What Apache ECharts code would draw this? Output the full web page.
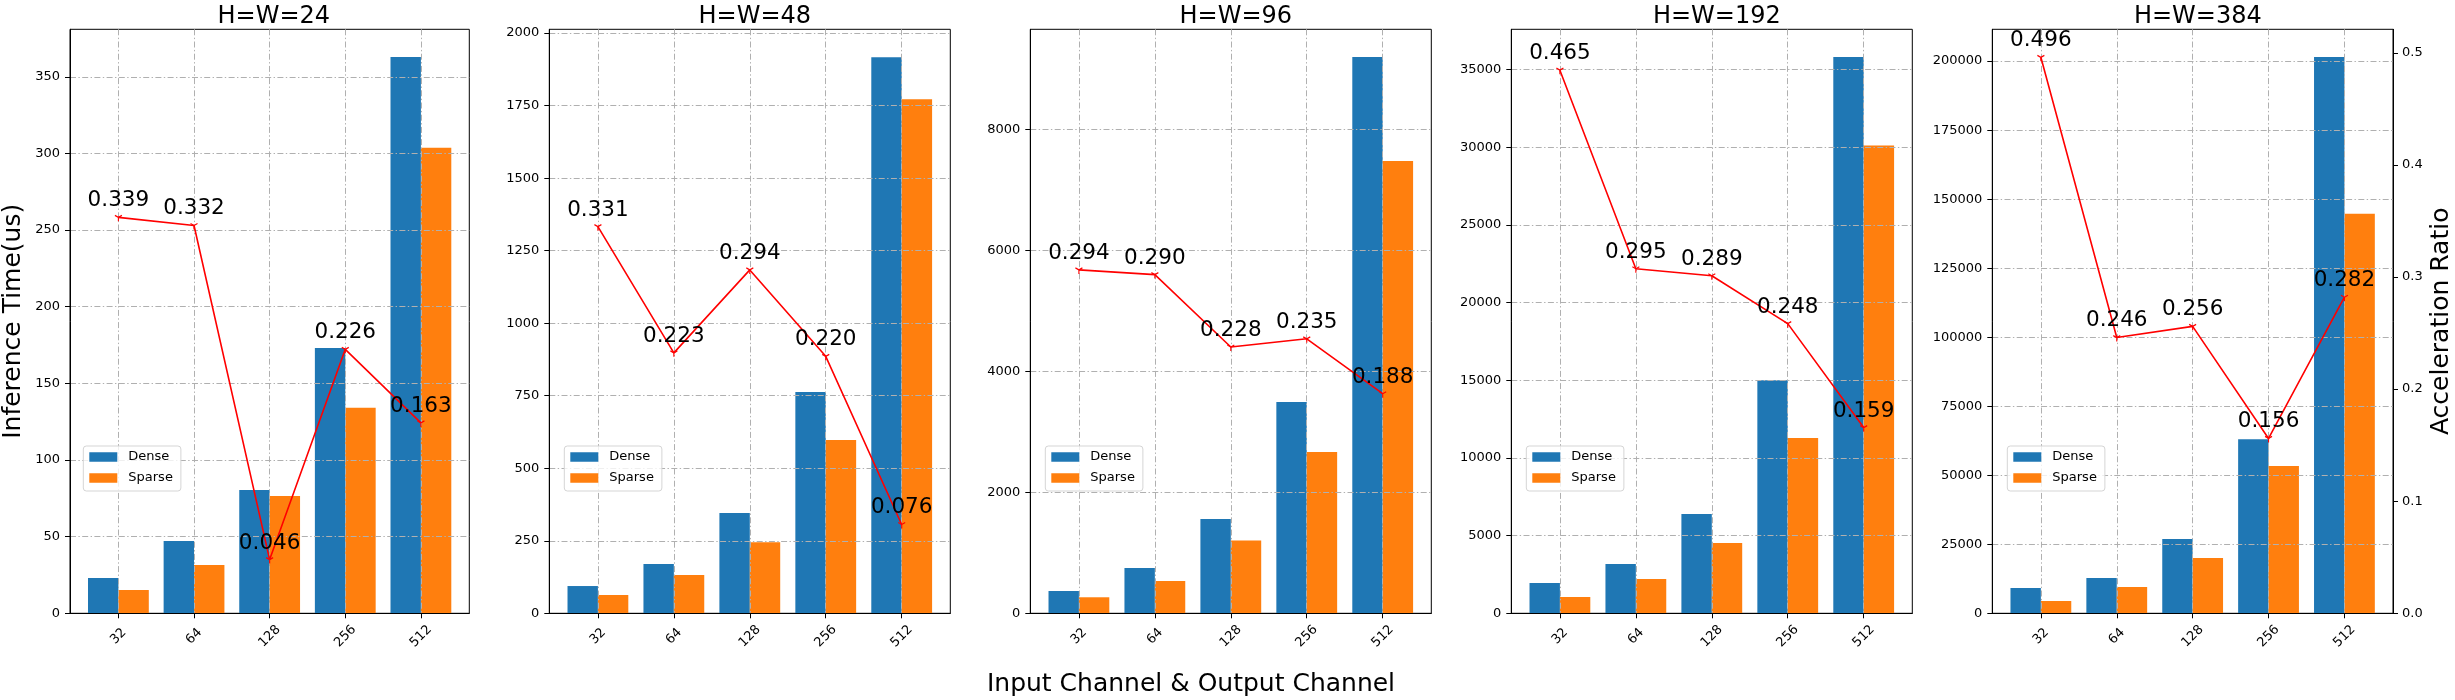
<!DOCTYPE html>
<html>
<head>
<meta charset="utf-8">
<title>Dense vs Sparse inference time</title>
<script src="https://cdn.jsdelivr.net/npm/echarts@6/dist/echarts.min.js"></script>
<style>
  html, body { margin: 0; padding: 0; background: #fff; }
  #chart { width: 2455px; height: 700px; }
</style>
</head>
<body>
<div id="chart"></div>
<script>
// Data
var channels = ['32', '64', '128', '256', '512'];
var panelTitles = ['H=W=24', 'H=W=48', 'H=W=96', 'H=W=192', 'H=W=384'];

var dense24 = [23.0, 47.2, 80.5, 173.0, 363.0];
var sparse24 = [15.2, 31.5, 76.6, 134.1, 303.8];
var ratio24 = [0.339, 0.332, 0.046, 0.226, 0.163];

var dense48 = [94, 170, 346, 763, 1917];
var sparse48 = [63, 132, 245, 597, 1772];
var ratio48 = [0.331, 0.223, 0.294, 0.220, 0.076];

var dense96 = [369, 749, 1559, 3493, 9195];
var sparse96 = [265, 534, 1205, 2666, 7476];
var ratio96 = [0.294, 0.290, 0.228, 0.235, 0.188];

var dense192 = [1950, 3172, 6390, 14994, 35798];
var sparse192 = [1049, 2207, 4524, 11280, 30116];
var ratio192 = [0.465, 0.295, 0.289, 0.248, 0.159];

var dense384 = [9170, 12790, 26920, 63040, 201450];
var sparse384 = [4460, 9530, 20036, 53370, 144670];
var ratio384 = [0.496, 0.246, 0.256, 0.156, 0.282];

// axis ranges per panel
var timeMax = [381, 2013, 9655, 37588, 211520];
var timeStep = [50, 250, 2000, 5000, 25000];
var ratioMax = [0.5, 0.5, 0.5, 0.5, 0.521];

var denseAll = [dense24, dense48, dense96, dense192, dense384];
var sparseAll = [sparse24, sparse48, sparse96, sparse192, sparse384];
var ratioAll = [ratio24, ratio48, ratio96, ratio192, ratio384];

(function () {
  'use strict';

  var FONT = 'DejaVu Sans';
  var GRID_LEFT = 68.3;
  var GRID_STEP = 481;
  var GRID_TOP = 29.3;
  var GRID_W = 401;
  var GRID_H = 584;
  var dashDot = [6, 2.4, 1.4, 2.4];
  var triDown = 'path://M0,-4 M0,0 L0,4 M0,0 L-3.46,-2 M0,0 L3.46,-2';

  function pairs(values) {
    return values.map(function (v, k) { return [k, v]; });
  }

  var chart = echarts.init(document.getElementById('chart'), null, { renderer: 'canvas' });

  var grids = [], xAxes = [], yAxes = [], series = [], titles = [], legends = [];

  panelTitles.forEach(function (title, i) {
    var left = GRID_LEFT + i * GRID_STEP;
    var last = i === panelTitles.length - 1;

    grids.push({
      left: left, top: GRID_TOP, width: GRID_W, height: GRID_H,
      show: true, borderColor: '#000', borderWidth: 1, backgroundColor: 'transparent'
    });

    titles.push({
      text: title,
      left: left + GRID_W / 2,
      textAlign: 'center',
      top: 0,
      textStyle: { fontFamily: FONT, fontSize: 24, fontWeight: 'normal', color: '#000' }
    });

    xAxes.push({
      type: 'value',
      gridIndex: i,
      min: -0.64,
      max: 4.64,
      z: 3,
      axisLine: { show: true, onZero: false, lineStyle: { color: '#000', width: 1 } },
      axisTick: { show: true, length: 5, customValues: [0, 1, 2, 3, 4], lineStyle: { color: '#000' } },
      axisLabel: {
        customValues: [0, 1, 2, 3, 4],
        formatter: function (v) { return channels[Math.round(v)]; },
        rotate: 45,
        align: 'center',
        verticalAlign: 'middle',
        margin: 23,
        fontFamily: FONT, fontSize: 13, color: '#000'
      },
      splitLine: { show: true, lineStyle: { color: '#b0b0b0', width: 1, type: dashDot } }
    });

    yAxes.push({
      type: 'value',
      gridIndex: i,
      min: 0,
      max: timeMax[i],
      interval: timeStep[i],
      z: 3,
      name: i === 0 ? 'Inference Time(us)' : '',
      nameLocation: 'middle',
      nameGap: 44,
      nameTextStyle: { fontFamily: FONT, fontSize: 25, color: '#000' },
      axisLine: { show: true, onZero: false, lineStyle: { color: '#000', width: 1 } },
      axisTick: { show: true, length: 5, lineStyle: { color: '#000' } },
      axisLabel: {
        showMaxLabel: false, margin: 10,
        formatter: function (v) { return String(v); },
        fontFamily: FONT, fontSize: 13, color: '#000'
      },
      splitLine: {
        show: true, showMaxLine: false, showMinLine: false,
        lineStyle: { color: '#b0b0b0', width: 1, type: dashDot }
      }
    });

    yAxes.push({
      type: 'value',
      gridIndex: i,
      position: 'right',
      show: last,
      min: 0,
      max: ratioMax[i],
      interval: 0.1,
      z: 3,
      name: last ? 'Acceleration Ratio' : '',
      nameLocation: 'middle',
      nameGap: 36,
      nameTextStyle: { fontFamily: FONT, fontSize: 25, color: '#000' },
      axisLine: { show: true, onZero: false, lineStyle: { color: '#000', width: 1 } },
      axisTick: { show: true, length: 5, lineStyle: { color: '#000' } },
      axisLabel: {
        showMaxLabel: false, margin: 9,
        formatter: function (v) { return v.toFixed(1); },
        fontFamily: FONT, fontSize: 13, color: '#000'
      },
      splitLine: { show: false }
    });

    series.push({
      name: 'Dense',
      type: 'bar',
      xAxisIndex: i,
      yAxisIndex: 2 * i,
      data: pairs(denseAll[i]),
      barWidth: 30.4,
      barGap: '0%',
      itemStyle: { color: '#1f77b4' },
      z: 2
    });

    series.push({
      name: 'Sparse',
      type: 'bar',
      xAxisIndex: i,
      yAxisIndex: 2 * i,
      data: pairs(sparseAll[i]),
      barWidth: 30.4,
      barGap: '0%',
      itemStyle: { color: '#ff7f0e' },
      z: 2
    });

    series.push({
      name: 'Ratio',
      type: 'line',
      xAxisIndex: i,
      yAxisIndex: 2 * i + 1,
      data: pairs(ratioAll[i]),
      symbol: triDown,
      symbolSize: [7, 8],
      lineStyle: { color: '#ff0000', width: 1.6 },
      itemStyle: { color: '#ff0000', borderColor: '#ff0000', borderWidth: 1.2 },
      label: {
        show: true,
        position: 'top',
        distance: 1,
        formatter: function (p) { return p.value[1].toFixed(3); },
        fontFamily: FONT, fontSize: 21.5, color: '#000'
      },
      z: 4
    });

    legends.push({
      data: ['Dense', 'Sparse'],
      orient: 'vertical',
      left: left + 15,
      top: 446,
      itemWidth: 28,
      itemHeight: 9.5,
      itemGap: 5,
      icon: 'rect',
      padding: [3, 8, 5, 6],
      backgroundColor: 'rgba(255,255,255,0.8)',
      borderColor: '#d5d5d5',
      borderWidth: 1,
      borderRadius: 3,
      textStyle: { fontFamily: FONT, fontSize: 13, color: '#000', lineHeight: 16, padding: [0, 0, 0, 6] }
    });
  });

  chart.setOption({
    backgroundColor: '#fff',
    animation: false,
    title: titles,
    legend: legends,
    grid: grids,
    xAxis: xAxes,
    yAxis: yAxes,
    series: series,
    graphic: [{
      type: 'text',
      x: 1191,
      y: 684,
      style: {
        text: 'Input Channel & Output Channel',
        font: '25px "DejaVu Sans"',
        fill: '#000',
        align: 'center',
        verticalAlign: 'middle'
      }
    }]
  });

  window.addEventListener('resize', function () {
    chart.resize();
  });
})();
</script>
</body>
</html>
